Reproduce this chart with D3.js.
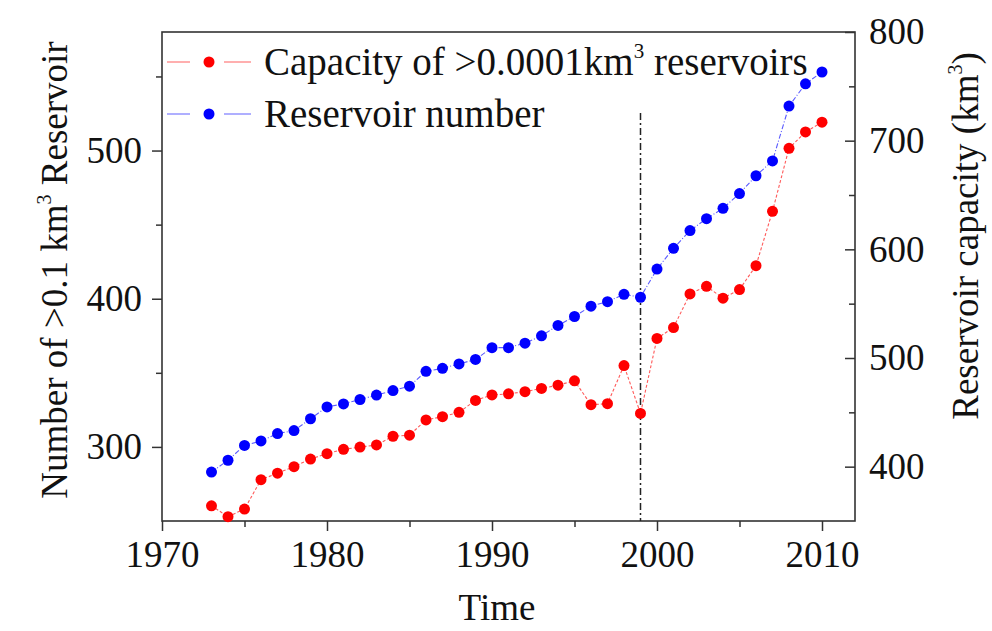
<!DOCTYPE html>
<html><head><meta charset="utf-8">
<script src="https://cdn.jsdelivr.net/npm/d3@7"></script>
<style>
body{margin:0;background:#fff}
svg{display:block}
text{font-family:"Liberation Serif","Times New Roman",serif;fill:#111}
</style>
</head><body>
<svg id="c" width="992" height="631"></svg>
<script>
// ---- data ----
const years = [1973,1974,1975,1976,1977,1978,1979,1980,1981,1982,1983,1984,1985,1986,1987,1988,1989,1990,
  1991,1992,1993,1994,1995,1996,1997,1998,1999,2000,2001,2002,2003,2004,2005,2006,2007,2008,2009,2010];
// Reservoir number (left axis)
const reservoirNumber = [283,291,301,304,309,311,319,327,329,332,335,338,341,351,353,356,359,367,
  367,370,375,382,388,395,398,403,401,420,434,446,454,461,471,483,493,530,545,553];
// Capacity of >0.0001 km3 reservoirs (right axis, km3)
const capacity = [364,354,361,388,394,400,407,412,416,418,420,428,429,443,446,450,461,466,
  467,469,472,475,479,457,458,493,449,518,528,559,566,555,563,585,635,693,708,717];
const xMajorTicks = [1970,1980,1990,2000,2010];
const xMinorTicks = [1975,1985,1995,2005];
const leftMajorTicks = [300,400,500];
const leftMinorTicks = [350,450,550];
const rightMajorTicks = [400,500,600,700,800];
const rightMinorTicks = [450,550,650,750];
const markerYear = 1999;
const seriesNames = ["Capacity of >0.0001km", "Reservoir number"];

// ---- layout ----
const L = 162, R = 855, T = 32, B = 521;
const FS = 37;
const LFS = 39;
const svg = d3.select("#c");

const x = d3.scaleLinear().domain([1970, 2012]).range([L, R]);
const yL = d3.scaleLinear().domain([250, 580]).range([B, T]);
const yR = d3.scaleLinear().domain([350, 800]).range([B, T]);

const axisColor = "#333";
function styleAxis(g){
  g.selectAll(".domain").remove();
  g.selectAll(".tick line").attr("stroke", axisColor).attr("stroke-width", 1.5);
  g.selectAll(".tick text").attr("font-size", FS).attr("fill", "#111")
    .style("font-family", '"Liberation Serif","Times New Roman",serif');
}

// bottom axis
svg.append("g").attr("transform", `translate(0,${B})`)
  .call(d3.axisBottom(x).tickValues(xMajorTicks).tickFormat(d3.format("d")).tickSize(10).tickPadding(10))
  .call(styleAxis);
svg.append("g").attr("transform", `translate(0,${B})`)
  .call(d3.axisBottom(x).tickValues(xMinorTicks).tickFormat("").tickSize(6))
  .call(styleAxis);
// left axis
svg.append("g").attr("transform", `translate(${L},0)`)
  .call(d3.axisLeft(yL).tickValues(leftMajorTicks).tickSize(10).tickPadding(10))
  .call(styleAxis);
svg.append("g").attr("transform", `translate(${L},0)`)
  .call(d3.axisLeft(yL).tickValues(leftMinorTicks).tickFormat("").tickSize(6))
  .call(styleAxis);
// right axis (ticks inward)
svg.append("g").attr("transform", `translate(${R},0)`)
  .call(d3.axisRight(yR).tickValues(rightMajorTicks).tickSizeInner(-10).tickSizeOuter(0).tickPadding(14))
  .call(styleAxis);
svg.append("g").attr("transform", `translate(${R},0)`)
  .call(d3.axisRight(yR).tickValues(rightMinorTicks).tickFormat("").tickSizeInner(-6).tickSizeOuter(0))
  .call(styleAxis);

// frame
svg.append("rect").attr("x", L).attr("y", T).attr("width", R - L).attr("height", B - T)
  .attr("fill", "none").attr("stroke", axisColor).attr("stroke-width", 1.6);

// vertical dash-dot line
svg.append("line").attr("x1", x(markerYear)).attr("x2", x(markerYear))
  .attr("y1", 113).attr("y2", B)
  .attr("stroke", "#222").attr("stroke-width", 1.5).attr("stroke-dasharray", "7,3,2,3");

// series
const redData = years.map((yr, i) => ({yr, v: capacity[i]}));
const blueData = years.map((yr, i) => ({yr, v: reservoirNumber[i]}));

svg.append("path").datum(redData)
  .attr("d", d3.line().x(d => x(d.yr)).y(d => yR(d.v)))
  .attr("fill", "none").attr("stroke", "#ff5a5a").attr("stroke-width", 1.1)
  .attr("stroke-dasharray", "3,2");
svg.append("path").datum(blueData)
  .attr("d", d3.line().x(d => x(d.yr)).y(d => yL(d.v)))
  .attr("fill", "none").attr("stroke", "#5a5aff").attr("stroke-width", 1.1)
  .attr("stroke-dasharray", "5,2,1,2");

svg.append("g").selectAll("circle").data(redData).join("circle")
  .attr("cx", d => x(d.yr)).attr("cy", d => yR(d.v)).attr("r", 5.5).attr("fill", "#f00");
svg.append("g").selectAll("circle").data(blueData).join("circle")
  .attr("cx", d => x(d.yr)).attr("cy", d => yL(d.v)).attr("r", 5.5).attr("fill", "#00f");

// legend
const legend = [
  {name: seriesNames[0], line: "#ff7a7a", dot: "#f00", y: 62, sup: true, after: " reservoirs"},
  {name: seriesNames[1], line: "#7a7aff", dot: "#00f", y: 114, sup: false, after: ""}
];
legend.forEach(l => {
  const g = svg.append("g");
  g.append("line").attr("x1", 167).attr("x2", 190).attr("y1", l.y).attr("y2", l.y)
    .attr("stroke", l.line).attr("stroke-width", 1.2);
  g.append("line").attr("x1", 224).attr("x2", 251).attr("y1", l.y).attr("y2", l.y)
    .attr("stroke", l.line).attr("stroke-width", 1.2);
  g.append("circle").attr("cx", 209).attr("cy", l.y).attr("r", 5.5).attr("fill", l.dot);
  const t = g.append("text").attr("x", 264).attr("y", l.y + 13).attr("font-size", LFS);
  t.append("tspan").text(l.name);
  if (l.sup) {
    t.append("tspan").attr("font-size", 21).attr("dy", -17).text("3");
    t.append("tspan").attr("dy", 17).text(l.after);
  }
});

// axis titles
svg.append("text").attr("x", 497).attr("y", 620).attr("text-anchor", "middle")
  .attr("font-size", FS).text("Time");

const lt = svg.append("text").attr("transform", "translate(67,270) rotate(-90)")
  .attr("text-anchor", "middle").attr("font-size", FS);
lt.append("tspan").text("Number of >0.1 km");
lt.append("tspan").attr("font-size", 20).attr("dy", -16).text("3");
lt.append("tspan").attr("dy", 16).text(" Reservoir");

const rt = svg.append("text").attr("transform", "translate(978,236) rotate(-90)")
  .attr("text-anchor", "middle").attr("font-size", FS);
rt.append("tspan").text("Reservoir capacity (km");
rt.append("tspan").attr("font-size", 20).attr("dy", -16).text("3");
rt.append("tspan").attr("dy", 16).text(")");
</script>
</body></html>
